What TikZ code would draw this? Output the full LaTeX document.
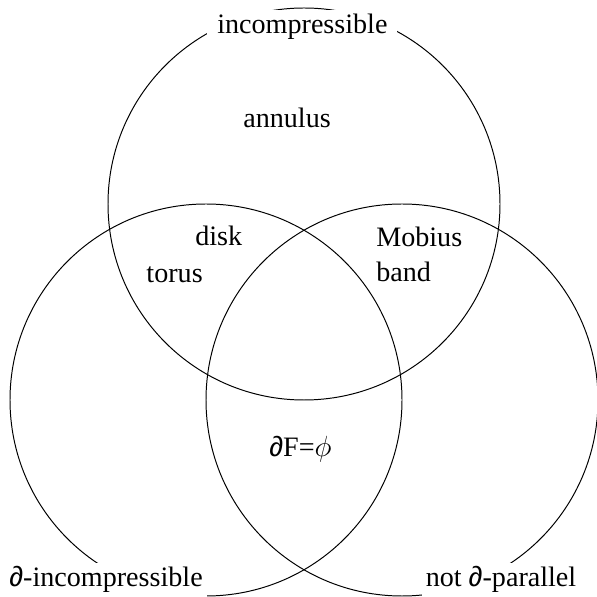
\documentclass[tikz,border=0pt]{standalone}
\usepackage{fontspec}
\setmainfont{Liberation Serif}
\newfontfamily\dfont{Liberation Sans}
\newcommand{\bdry}{{\dfont ∂}}
\usetikzlibrary{positioning}

\begin{document}
\begin{tikzpicture}[
  lbl/.style={font=\fontsize{20}{24}\selectfont, inner sep=0pt},
  rim/.style={lbl, fill=white, inner sep=3pt}]
\useasboundingbox (0,0) rectangle (14.925,14.925);
\coordinate (top) at (7.6,9.825);
\coordinate (lft) at (5.15,4.925);
\coordinate (rgt) at (10.05,4.925);
\foreach \c in {top,lft,rgt} {
  \draw[line width=0.7pt] (\c) circle (4.9);
}
\node[rim, inner xsep=7pt, anchor=base] (incomp) at (7.56,14.09) {incompressible};
\node[rim, anchor=base] (bincomp) at (2.65,0.25) {\bdry-incompressible};
\node[rim, anchor=base] (notpar) at (12.525,0.25) {not \bdry-parallel};
\node[lbl, anchor=base west] (annulus) at (6.075,11.725) {annulus};
\node[lbl, anchor=base west] (disk) at (4.875,8.775) {disk};
\node[lbl, anchor=base east] (torus) at (5.075,7.85) {torus};
\node[lbl, anchor=base west] (mobius) at (9.4,8.75) {Mobius};
\node[lbl, anchor=base west] (band) at (9.4,7.875) {band};
\node[lbl, anchor=base] (empty) at (7.51,3.5) {\bdry F=$\phi$};
\end{tikzpicture}
\end{document}
